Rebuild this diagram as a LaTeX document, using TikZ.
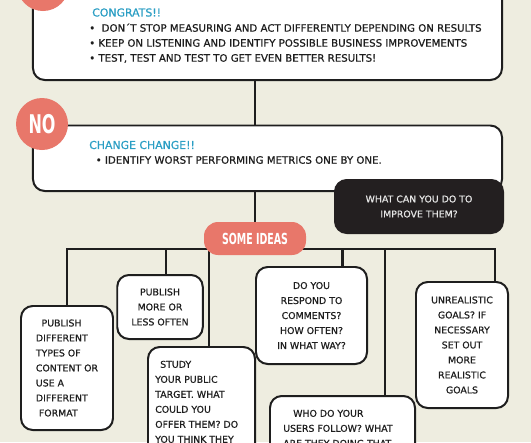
\documentclass[tikz,border=0pt]{standalone}
\usepackage{fontspec}
\setmainfont{DejaVu Sans}[FakeBold=0.7]
\newfontfamily\condfont{DejaVu Sans}[FakeStretch=0.62]
\usepackage{xcolor}
\usetikzlibrary{positioning, calc, backgrounds}
\definecolor{creamBg}{HTML}{EEEDE0}
\definecolor{salmon}{HTML}{E8776A}
\definecolor{tipBlue}{HTML}{2A9EC4}
\definecolor{inkBlack}{HTML}{1E1E1E}
\definecolor{askBlack}{HTML}{231F20}
\definecolor{askText}{HTML}{E6E6E6}
\newcommand\tipfont{\fontsize{8.7}{12.8}\selectfont}
\newcommand\ideafont{\fontsize{8}{12.8}\selectfont}
\newcommand\headfont{\fontsize{9.3}{11}\selectfont}

\begin{document}
\begin{tikzpicture}[x=0.03cm, y=-0.03cm,
    panel/.style={rectangle, rounded corners=10pt, draw=inkBlack, line width=1.7pt, fill=white, inner sep=0pt},
    idea/.style={panel, align=center, font=\ideafont, text=inkBlack},
    badge/.style={circle, fill=salmon, text=white, inner sep=0pt, minimum size=1.56cm,
                  font=\condfont\bfseries\fontsize{22}{22}\selectfont},
    note/.style={inner sep=0pt, text=inkBlack},
    link/.style={draw=inkBlack, line width=2.2pt},
]
\useasboundingbox (0,0) rectangle (531,442);

% result panels
\node[panel, minimum width=14.07cm, minimum height=3.3cm] (top) at (267.5,25) {};
\node[panel, minimum width=14.07cm, minimum height=1.965cm] (chg) at (267.5,158.25) {};
\node[panel, fill=askBlack, draw=askBlack, minimum width=5.04cm, minimum height=1.59cm,
      align=center, font=\ideafont, text=askText] (ask) at (419,206.5) {WHAT CAN YOU DO TO\\IMPROVE THEM?};
\node[badge] (yes) at (43,-15) {};
\node[badge] (no) at (42,124) {NO};

\node[note, anchor=west, text=tipBlue, font=\headfont] (congrats) at (92,12.5) {CONGRATS!!};
\node[note, anchor=north west, align=left, font=\tipfont] (keep) at (89,23.3)
    {•\ \ DON´T STOP MEASURING AND ACT DIFFERENTLY DEPENDING ON RESULTS\\
     • KEEP ON LISTENING AND IDENTIFY POSSIBLE BUSINESS IMPROVEMENTS\\
     • TEST, TEST AND TEST TO GET EVEN BETTER RESULTS!};
\node[note, anchor=west, text=tipBlue, font=\headfont] (change) at (89,145) {CHANGE CHANGE!!};
\node[note, anchor=west, font=\tipfont] (worst) at (95.5,160) {• IDENTIFY WORST PERFORMING METRICS ONE BY ONE.};

% ideas
\node[rectangle, rounded corners=12pt, fill=salmon, text=white, minimum width=3.06cm, minimum height=0.99cm,
      font=\condfont\bfseries\fontsize{13}{13}\selectfont] (ideas) at (255,238.5) {SOME IDEAS};
\node[idea, align=left, minimum width=2.76cm, minimum height=3.72cm] (b1) at (67,368)
    {\hspace*{0.17cm}PUBLISH\\DIFFERENT\\TYPES OF\\CONTENT OR\\USE A\\DIFFERENT\\\hspace*{0.09cm}FORMAT};
\node[idea, minimum width=2.565cm, minimum height=1.92cm] (b2) at (160,307) {PUBLISH\\MORE OR\\LESS OFTEN};
\node[idea, minimum width=3.21cm, minimum height=4.59cm] (b3) at (201.5,423.5) {};
\node[note, anchor=north west, align=left, font=\ideafont] (study) at (155,360.6)
    {\hspace*{0.15cm}STUDY\\YOUR PUBLIC\\TARGET. WHAT\\COULD YOU\\OFFER THEM? DO\\YOU THINK THEY};
\node[idea, minimum width=3.33cm, minimum height=2.91cm] (b4) at (311.5,315.5)
    {DO YOU\\RESPOND TO\\COMMENTS?\\HOW OFTEN?\\IN WHAT WAY?};
\node[idea, minimum width=4.35cm, minimum height=3.72cm] (b5) at (342.5,458) {};
\node[note, anchor=north west, align=left, font=\ideafont] (follow) at (283,409.6)
    {\hspace*{0.3cm}WHO DO YOUR\\USERS FOLLOW? WHAT\\ARE THEY DOING THAT};
\node[idea, minimum width=2.76cm, minimum height=3.78cm] (b6) at (462,345)
    {UNREALISTIC\\GOALS? IF\\NECESSARY\\SET OUT\\MORE\\REALISTIC\\GOALS};

% drop points on the bar
\coordinate (bar) at (0,249);
\coordinate (d2) at ($(b2.north west)!0.57!(b2.north east)$);
\coordinate (d3) at ($(b3.north west)!0.57!(b3.north east)$);
\coordinate (d4) at ($(b4.north west)!0.775!(b4.north east)$);
\coordinate (d5) at ($(b5.north west)!0.79!(b5.north east)$);
\coordinate (d6) at ($(b6.north west)!0.85!(b6.north east)$);

\begin{scope}[on background layer]
\fill[creamBg] (0,0) rectangle (531,442);
\draw[link] (top.south -| ideas) -- (chg.north -| ideas);
\draw[link] (chg.south -| ideas) -- (ideas.north);
\draw[link] (b1.north) -- (b1.north |- bar) -- (d6 |- bar) -- (d6);
\foreach \drop in {d2,d3,d4,d5}
    \draw[link] (\drop) -- (\drop |- bar);
\end{scope}
\end{tikzpicture}
\end{document}
